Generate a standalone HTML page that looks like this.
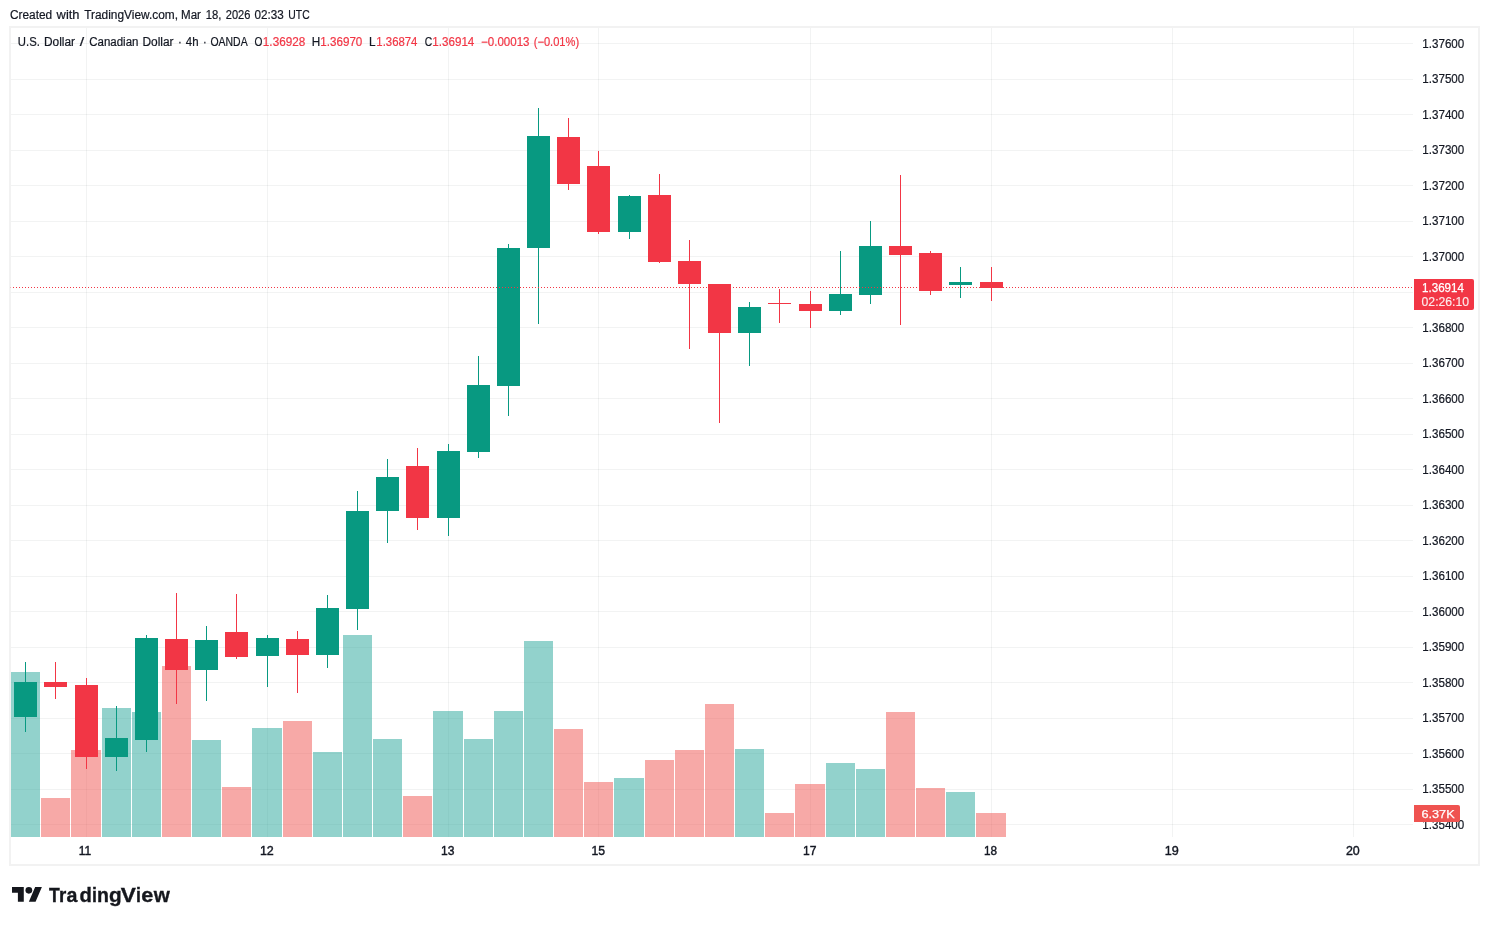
<!DOCTYPE html>
<html><head><meta charset="utf-8"><title>USDCAD</title>
<style>html,body{margin:0;padding:0;background:#fff;}body{width:1489px;height:925px;overflow:hidden;}svg{display:block;will-change:transform;}text{font-family:"Liberation Sans",sans-serif;}</style>
</head><body>
<svg width="1489" height="925" viewBox="0 0 1489 925">
<rect x="0" y="0" width="1489" height="925" fill="#ffffff"/>
<g fill="rgba(42,46,57,0.06)" shape-rendering="crispEdges">
<rect x="11" y="43" width="1402" height="1"/>
<rect x="11" y="79" width="1402" height="1"/>
<rect x="11" y="114" width="1402" height="1"/>
<rect x="11" y="150" width="1402" height="1"/>
<rect x="11" y="185" width="1402" height="1"/>
<rect x="11" y="221" width="1402" height="1"/>
<rect x="11" y="256" width="1402" height="1"/>
<rect x="11" y="292" width="1402" height="1"/>
<rect x="11" y="327" width="1402" height="1"/>
<rect x="11" y="363" width="1402" height="1"/>
<rect x="11" y="398" width="1402" height="1"/>
<rect x="11" y="434" width="1402" height="1"/>
<rect x="11" y="469" width="1402" height="1"/>
<rect x="11" y="505" width="1402" height="1"/>
<rect x="11" y="540" width="1402" height="1"/>
<rect x="11" y="576" width="1402" height="1"/>
<rect x="11" y="611" width="1402" height="1"/>
<rect x="11" y="647" width="1402" height="1"/>
<rect x="11" y="682" width="1402" height="1"/>
<rect x="11" y="718" width="1402" height="1"/>
<rect x="11" y="753" width="1402" height="1"/>
<rect x="11" y="789" width="1402" height="1"/>
<rect x="11" y="824" width="1402" height="1"/>
<rect x="86" y="28" width="1" height="809"/>
<rect x="267" y="28" width="1" height="809"/>
<rect x="448" y="28" width="1" height="809"/>
<rect x="598" y="28" width="1" height="809"/>
<rect x="810" y="28" width="1" height="809"/>
<rect x="991" y="28" width="1" height="809"/>
<rect x="1172" y="28" width="1" height="809"/>
<rect x="1353" y="28" width="1" height="809"/>
</g>
<rect x="10" y="27" width="1469" height="838" fill="none" stroke="#f2f2f2" stroke-width="2" shape-rendering="crispEdges"/>
<g shape-rendering="crispEdges">
<rect x="11" y="672" width="29" height="165" fill="rgba(38,166,154,0.5)"/>
<rect x="41" y="798" width="29" height="39" fill="rgba(239,83,80,0.5)"/>
<rect x="71" y="750" width="30" height="87" fill="rgba(239,83,80,0.5)"/>
<rect x="102" y="708" width="29" height="129" fill="rgba(38,166,154,0.5)"/>
<rect x="132" y="712" width="29" height="125" fill="rgba(38,166,154,0.5)"/>
<rect x="162" y="666" width="29" height="171" fill="rgba(239,83,80,0.5)"/>
<rect x="192" y="740" width="29" height="97" fill="rgba(38,166,154,0.5)"/>
<rect x="222" y="787" width="29" height="50" fill="rgba(239,83,80,0.5)"/>
<rect x="252" y="728" width="30" height="109" fill="rgba(38,166,154,0.5)"/>
<rect x="283" y="721" width="29" height="116" fill="rgba(239,83,80,0.5)"/>
<rect x="313" y="752" width="29" height="85" fill="rgba(38,166,154,0.5)"/>
<rect x="343" y="635" width="29" height="202" fill="rgba(38,166,154,0.5)"/>
<rect x="373" y="739" width="29" height="98" fill="rgba(38,166,154,0.5)"/>
<rect x="403" y="796" width="29" height="41" fill="rgba(239,83,80,0.5)"/>
<rect x="433" y="711" width="30" height="126" fill="rgba(38,166,154,0.5)"/>
<rect x="464" y="739" width="29" height="98" fill="rgba(38,166,154,0.5)"/>
<rect x="494" y="711" width="29" height="126" fill="rgba(38,166,154,0.5)"/>
<rect x="524" y="641" width="29" height="196" fill="rgba(38,166,154,0.5)"/>
<rect x="554" y="729" width="29" height="108" fill="rgba(239,83,80,0.5)"/>
<rect x="584" y="782" width="29" height="55" fill="rgba(239,83,80,0.5)"/>
<rect x="614" y="778" width="30" height="59" fill="rgba(38,166,154,0.5)"/>
<rect x="645" y="760" width="29" height="77" fill="rgba(239,83,80,0.5)"/>
<rect x="675" y="750" width="29" height="87" fill="rgba(239,83,80,0.5)"/>
<rect x="705" y="704" width="29" height="133" fill="rgba(239,83,80,0.5)"/>
<rect x="735" y="749" width="29" height="88" fill="rgba(38,166,154,0.5)"/>
<rect x="765" y="813" width="29" height="24" fill="rgba(239,83,80,0.5)"/>
<rect x="795" y="784" width="30" height="53" fill="rgba(239,83,80,0.5)"/>
<rect x="826" y="763" width="29" height="74" fill="rgba(38,166,154,0.5)"/>
<rect x="856" y="769" width="29" height="68" fill="rgba(38,166,154,0.5)"/>
<rect x="886" y="712" width="29" height="125" fill="rgba(239,83,80,0.5)"/>
<rect x="916" y="788" width="29" height="49" fill="rgba(239,83,80,0.5)"/>
<rect x="946" y="792" width="29" height="45" fill="rgba(38,166,154,0.5)"/>
<rect x="976" y="813" width="30" height="24" fill="rgba(239,83,80,0.5)"/>
</g>
<g shape-rendering="crispEdges">
<rect x="25" y="662" width="1" height="70" fill="#089981"/>
<rect x="14" y="682" width="23" height="35" fill="#089981"/>
<rect x="55" y="662" width="1" height="37" fill="#f23645"/>
<rect x="44" y="682" width="23" height="5" fill="#f23645"/>
<rect x="86" y="678" width="1" height="91" fill="#f23645"/>
<rect x="75" y="685" width="23" height="72" fill="#f23645"/>
<rect x="116" y="706" width="1" height="65" fill="#089981"/>
<rect x="105" y="738" width="23" height="19" fill="#089981"/>
<rect x="146" y="635" width="1" height="117" fill="#089981"/>
<rect x="135" y="638" width="23" height="102" fill="#089981"/>
<rect x="176" y="593" width="1" height="111" fill="#f23645"/>
<rect x="165" y="639" width="23" height="31" fill="#f23645"/>
<rect x="206" y="626" width="1" height="75" fill="#089981"/>
<rect x="195" y="640" width="23" height="30" fill="#089981"/>
<rect x="236" y="594" width="1" height="65" fill="#f23645"/>
<rect x="225" y="632" width="23" height="25" fill="#f23645"/>
<rect x="267" y="635" width="1" height="52" fill="#089981"/>
<rect x="256" y="638" width="23" height="18" fill="#089981"/>
<rect x="297" y="631" width="1" height="62" fill="#f23645"/>
<rect x="286" y="639" width="23" height="16" fill="#f23645"/>
<rect x="327" y="595" width="1" height="73" fill="#089981"/>
<rect x="316" y="608" width="23" height="47" fill="#089981"/>
<rect x="357" y="491" width="1" height="139" fill="#089981"/>
<rect x="346" y="511" width="23" height="98" fill="#089981"/>
<rect x="387" y="459" width="1" height="84" fill="#089981"/>
<rect x="376" y="477" width="23" height="34" fill="#089981"/>
<rect x="417" y="448" width="1" height="82" fill="#f23645"/>
<rect x="406" y="466" width="23" height="52" fill="#f23645"/>
<rect x="448" y="444" width="1" height="92" fill="#089981"/>
<rect x="437" y="451" width="23" height="67" fill="#089981"/>
<rect x="478" y="356" width="1" height="102" fill="#089981"/>
<rect x="467" y="385" width="23" height="67" fill="#089981"/>
<rect x="508" y="244" width="1" height="172" fill="#089981"/>
<rect x="497" y="248" width="23" height="138" fill="#089981"/>
<rect x="538" y="108" width="1" height="216" fill="#089981"/>
<rect x="527" y="136" width="23" height="112" fill="#089981"/>
<rect x="568" y="118" width="1" height="72" fill="#f23645"/>
<rect x="557" y="137" width="23" height="47" fill="#f23645"/>
<rect x="598" y="151" width="1" height="83" fill="#f23645"/>
<rect x="587" y="166" width="23" height="66" fill="#f23645"/>
<rect x="629" y="195" width="1" height="44" fill="#089981"/>
<rect x="618" y="196" width="23" height="36" fill="#089981"/>
<rect x="659" y="174" width="1" height="89" fill="#f23645"/>
<rect x="648" y="195" width="23" height="67" fill="#f23645"/>
<rect x="689" y="240" width="1" height="109" fill="#f23645"/>
<rect x="678" y="261" width="23" height="23" fill="#f23645"/>
<rect x="719" y="284" width="1" height="139" fill="#f23645"/>
<rect x="708" y="284" width="23" height="49" fill="#f23645"/>
<rect x="749" y="302" width="1" height="64" fill="#089981"/>
<rect x="738" y="307" width="23" height="26" fill="#089981"/>
<rect x="779" y="289" width="1" height="34" fill="#f23645"/>
<rect x="768" y="303" width="23" height="1" fill="#f23645"/>
<rect x="810" y="291" width="1" height="37" fill="#f23645"/>
<rect x="799" y="304" width="23" height="7" fill="#f23645"/>
<rect x="840" y="251" width="1" height="64" fill="#089981"/>
<rect x="829" y="294" width="23" height="17" fill="#089981"/>
<rect x="870" y="221" width="1" height="83" fill="#089981"/>
<rect x="859" y="246" width="23" height="49" fill="#089981"/>
<rect x="900" y="175" width="1" height="150" fill="#f23645"/>
<rect x="889" y="246" width="23" height="9" fill="#f23645"/>
<rect x="930" y="251" width="1" height="44" fill="#f23645"/>
<rect x="919" y="253" width="23" height="38" fill="#f23645"/>
<rect x="960" y="267" width="1" height="31" fill="#089981"/>
<rect x="949" y="282" width="23" height="3" fill="#089981"/>
<rect x="991" y="267" width="1" height="34" fill="#f23645"/>
<rect x="980" y="282" width="23" height="6" fill="#f23645"/>
</g>
<g fill="#f23645" shape-rendering="crispEdges">
<path d="M13 287h1v1h-1zM16 287h1v1h-1zM19 287h1v1h-1zM22 287h1v1h-1zM25 287h1v1h-1zM28 287h1v1h-1zM31 287h1v1h-1zM34 287h1v1h-1zM37 287h1v1h-1zM40 287h1v1h-1zM43 287h1v1h-1zM46 287h1v1h-1zM49 287h1v1h-1zM52 287h1v1h-1zM55 287h1v1h-1zM58 287h1v1h-1zM61 287h1v1h-1zM64 287h1v1h-1zM67 287h1v1h-1zM70 287h1v1h-1zM73 287h1v1h-1zM76 287h1v1h-1zM79 287h1v1h-1zM82 287h1v1h-1zM85 287h1v1h-1zM88 287h1v1h-1zM91 287h1v1h-1zM94 287h1v1h-1zM97 287h1v1h-1zM100 287h1v1h-1zM103 287h1v1h-1zM106 287h1v1h-1zM109 287h1v1h-1zM112 287h1v1h-1zM115 287h1v1h-1zM118 287h1v1h-1zM121 287h1v1h-1zM124 287h1v1h-1zM127 287h1v1h-1zM130 287h1v1h-1zM133 287h1v1h-1zM136 287h1v1h-1zM139 287h1v1h-1zM142 287h1v1h-1zM145 287h1v1h-1zM148 287h1v1h-1zM151 287h1v1h-1zM154 287h1v1h-1zM157 287h1v1h-1zM160 287h1v1h-1zM163 287h1v1h-1zM166 287h1v1h-1zM169 287h1v1h-1zM172 287h1v1h-1zM175 287h1v1h-1zM178 287h1v1h-1zM181 287h1v1h-1zM184 287h1v1h-1zM187 287h1v1h-1zM190 287h1v1h-1zM193 287h1v1h-1zM196 287h1v1h-1zM199 287h1v1h-1zM202 287h1v1h-1zM205 287h1v1h-1zM208 287h1v1h-1zM211 287h1v1h-1zM214 287h1v1h-1zM217 287h1v1h-1zM220 287h1v1h-1zM223 287h1v1h-1zM226 287h1v1h-1zM229 287h1v1h-1zM232 287h1v1h-1zM235 287h1v1h-1zM238 287h1v1h-1zM241 287h1v1h-1zM244 287h1v1h-1zM247 287h1v1h-1zM250 287h1v1h-1zM253 287h1v1h-1zM256 287h1v1h-1zM259 287h1v1h-1zM262 287h1v1h-1zM265 287h1v1h-1zM268 287h1v1h-1zM271 287h1v1h-1zM274 287h1v1h-1zM277 287h1v1h-1zM280 287h1v1h-1zM283 287h1v1h-1zM286 287h1v1h-1zM289 287h1v1h-1zM292 287h1v1h-1zM295 287h1v1h-1zM298 287h1v1h-1zM301 287h1v1h-1zM304 287h1v1h-1zM307 287h1v1h-1zM310 287h1v1h-1zM313 287h1v1h-1zM316 287h1v1h-1zM319 287h1v1h-1zM322 287h1v1h-1zM325 287h1v1h-1zM328 287h1v1h-1zM331 287h1v1h-1zM334 287h1v1h-1zM337 287h1v1h-1zM340 287h1v1h-1zM343 287h1v1h-1zM346 287h1v1h-1zM349 287h1v1h-1zM352 287h1v1h-1zM355 287h1v1h-1zM358 287h1v1h-1zM361 287h1v1h-1zM364 287h1v1h-1zM367 287h1v1h-1zM370 287h1v1h-1zM373 287h1v1h-1zM376 287h1v1h-1zM379 287h1v1h-1zM382 287h1v1h-1zM385 287h1v1h-1zM388 287h1v1h-1zM391 287h1v1h-1zM394 287h1v1h-1zM397 287h1v1h-1zM400 287h1v1h-1zM403 287h1v1h-1zM406 287h1v1h-1zM409 287h1v1h-1zM412 287h1v1h-1zM415 287h1v1h-1zM418 287h1v1h-1zM421 287h1v1h-1zM424 287h1v1h-1zM427 287h1v1h-1zM430 287h1v1h-1zM433 287h1v1h-1zM436 287h1v1h-1zM439 287h1v1h-1zM442 287h1v1h-1zM445 287h1v1h-1zM448 287h1v1h-1zM451 287h1v1h-1zM454 287h1v1h-1zM457 287h1v1h-1zM460 287h1v1h-1zM463 287h1v1h-1zM466 287h1v1h-1zM469 287h1v1h-1zM472 287h1v1h-1zM475 287h1v1h-1zM478 287h1v1h-1zM481 287h1v1h-1zM484 287h1v1h-1zM487 287h1v1h-1zM490 287h1v1h-1zM493 287h1v1h-1zM496 287h1v1h-1zM499 287h1v1h-1zM502 287h1v1h-1zM505 287h1v1h-1zM508 287h1v1h-1zM511 287h1v1h-1zM514 287h1v1h-1zM517 287h1v1h-1zM520 287h1v1h-1zM523 287h1v1h-1zM526 287h1v1h-1zM529 287h1v1h-1zM532 287h1v1h-1zM535 287h1v1h-1zM538 287h1v1h-1zM541 287h1v1h-1zM544 287h1v1h-1zM547 287h1v1h-1zM550 287h1v1h-1zM553 287h1v1h-1zM556 287h1v1h-1zM559 287h1v1h-1zM562 287h1v1h-1zM565 287h1v1h-1zM568 287h1v1h-1zM571 287h1v1h-1zM574 287h1v1h-1zM577 287h1v1h-1zM580 287h1v1h-1zM583 287h1v1h-1zM586 287h1v1h-1zM589 287h1v1h-1zM592 287h1v1h-1zM595 287h1v1h-1zM598 287h1v1h-1zM601 287h1v1h-1zM604 287h1v1h-1zM607 287h1v1h-1zM610 287h1v1h-1zM613 287h1v1h-1zM616 287h1v1h-1zM619 287h1v1h-1zM622 287h1v1h-1zM625 287h1v1h-1zM628 287h1v1h-1zM631 287h1v1h-1zM634 287h1v1h-1zM637 287h1v1h-1zM640 287h1v1h-1zM643 287h1v1h-1zM646 287h1v1h-1zM649 287h1v1h-1zM652 287h1v1h-1zM655 287h1v1h-1zM658 287h1v1h-1zM661 287h1v1h-1zM664 287h1v1h-1zM667 287h1v1h-1zM670 287h1v1h-1zM673 287h1v1h-1zM676 287h1v1h-1zM679 287h1v1h-1zM682 287h1v1h-1zM685 287h1v1h-1zM688 287h1v1h-1zM691 287h1v1h-1zM694 287h1v1h-1zM697 287h1v1h-1zM700 287h1v1h-1zM703 287h1v1h-1zM706 287h1v1h-1zM709 287h1v1h-1zM712 287h1v1h-1zM715 287h1v1h-1zM718 287h1v1h-1zM721 287h1v1h-1zM724 287h1v1h-1zM727 287h1v1h-1zM730 287h1v1h-1zM733 287h1v1h-1zM736 287h1v1h-1zM739 287h1v1h-1zM742 287h1v1h-1zM745 287h1v1h-1zM748 287h1v1h-1zM751 287h1v1h-1zM754 287h1v1h-1zM757 287h1v1h-1zM760 287h1v1h-1zM763 287h1v1h-1zM766 287h1v1h-1zM769 287h1v1h-1zM772 287h1v1h-1zM775 287h1v1h-1zM778 287h1v1h-1zM781 287h1v1h-1zM784 287h1v1h-1zM787 287h1v1h-1zM790 287h1v1h-1zM793 287h1v1h-1zM796 287h1v1h-1zM799 287h1v1h-1zM802 287h1v1h-1zM805 287h1v1h-1zM808 287h1v1h-1zM811 287h1v1h-1zM814 287h1v1h-1zM817 287h1v1h-1zM820 287h1v1h-1zM823 287h1v1h-1zM826 287h1v1h-1zM829 287h1v1h-1zM832 287h1v1h-1zM835 287h1v1h-1zM838 287h1v1h-1zM841 287h1v1h-1zM844 287h1v1h-1zM847 287h1v1h-1zM850 287h1v1h-1zM853 287h1v1h-1zM856 287h1v1h-1zM859 287h1v1h-1zM862 287h1v1h-1zM865 287h1v1h-1zM868 287h1v1h-1zM871 287h1v1h-1zM874 287h1v1h-1zM877 287h1v1h-1zM880 287h1v1h-1zM883 287h1v1h-1zM886 287h1v1h-1zM889 287h1v1h-1zM892 287h1v1h-1zM895 287h1v1h-1zM898 287h1v1h-1zM901 287h1v1h-1zM904 287h1v1h-1zM907 287h1v1h-1zM910 287h1v1h-1zM913 287h1v1h-1zM916 287h1v1h-1zM919 287h1v1h-1zM922 287h1v1h-1zM925 287h1v1h-1zM928 287h1v1h-1zM931 287h1v1h-1zM934 287h1v1h-1zM937 287h1v1h-1zM940 287h1v1h-1zM943 287h1v1h-1zM946 287h1v1h-1zM949 287h1v1h-1zM952 287h1v1h-1zM955 287h1v1h-1zM958 287h1v1h-1zM961 287h1v1h-1zM964 287h1v1h-1zM967 287h1v1h-1zM970 287h1v1h-1zM973 287h1v1h-1zM976 287h1v1h-1zM979 287h1v1h-1zM982 287h1v1h-1zM985 287h1v1h-1zM988 287h1v1h-1zM991 287h1v1h-1zM994 287h1v1h-1zM997 287h1v1h-1zM1000 287h1v1h-1zM1003 287h1v1h-1zM1006 287h1v1h-1zM1009 287h1v1h-1zM1012 287h1v1h-1zM1015 287h1v1h-1zM1018 287h1v1h-1zM1021 287h1v1h-1zM1024 287h1v1h-1zM1027 287h1v1h-1zM1030 287h1v1h-1zM1033 287h1v1h-1zM1036 287h1v1h-1zM1039 287h1v1h-1zM1042 287h1v1h-1zM1045 287h1v1h-1zM1048 287h1v1h-1zM1051 287h1v1h-1zM1054 287h1v1h-1zM1057 287h1v1h-1zM1060 287h1v1h-1zM1063 287h1v1h-1zM1066 287h1v1h-1zM1069 287h1v1h-1zM1072 287h1v1h-1zM1075 287h1v1h-1zM1078 287h1v1h-1zM1081 287h1v1h-1zM1084 287h1v1h-1zM1087 287h1v1h-1zM1090 287h1v1h-1zM1093 287h1v1h-1zM1096 287h1v1h-1zM1099 287h1v1h-1zM1102 287h1v1h-1zM1105 287h1v1h-1zM1108 287h1v1h-1zM1111 287h1v1h-1zM1114 287h1v1h-1zM1117 287h1v1h-1zM1120 287h1v1h-1zM1123 287h1v1h-1zM1126 287h1v1h-1zM1129 287h1v1h-1zM1132 287h1v1h-1zM1135 287h1v1h-1zM1138 287h1v1h-1zM1141 287h1v1h-1zM1144 287h1v1h-1zM1147 287h1v1h-1zM1150 287h1v1h-1zM1153 287h1v1h-1zM1156 287h1v1h-1zM1159 287h1v1h-1zM1162 287h1v1h-1zM1165 287h1v1h-1zM1168 287h1v1h-1zM1171 287h1v1h-1zM1174 287h1v1h-1zM1177 287h1v1h-1zM1180 287h1v1h-1zM1183 287h1v1h-1zM1186 287h1v1h-1zM1189 287h1v1h-1zM1192 287h1v1h-1zM1195 287h1v1h-1zM1198 287h1v1h-1zM1201 287h1v1h-1zM1204 287h1v1h-1zM1207 287h1v1h-1zM1210 287h1v1h-1zM1213 287h1v1h-1zM1216 287h1v1h-1zM1219 287h1v1h-1zM1222 287h1v1h-1zM1225 287h1v1h-1zM1228 287h1v1h-1zM1231 287h1v1h-1zM1234 287h1v1h-1zM1237 287h1v1h-1zM1240 287h1v1h-1zM1243 287h1v1h-1zM1246 287h1v1h-1zM1249 287h1v1h-1zM1252 287h1v1h-1zM1255 287h1v1h-1zM1258 287h1v1h-1zM1261 287h1v1h-1zM1264 287h1v1h-1zM1267 287h1v1h-1zM1270 287h1v1h-1zM1273 287h1v1h-1zM1276 287h1v1h-1zM1279 287h1v1h-1zM1282 287h1v1h-1zM1285 287h1v1h-1zM1288 287h1v1h-1zM1291 287h1v1h-1zM1294 287h1v1h-1zM1297 287h1v1h-1zM1300 287h1v1h-1zM1303 287h1v1h-1zM1306 287h1v1h-1zM1309 287h1v1h-1zM1312 287h1v1h-1zM1315 287h1v1h-1zM1318 287h1v1h-1zM1321 287h1v1h-1zM1324 287h1v1h-1zM1327 287h1v1h-1zM1330 287h1v1h-1zM1333 287h1v1h-1zM1336 287h1v1h-1zM1339 287h1v1h-1zM1342 287h1v1h-1zM1345 287h1v1h-1zM1348 287h1v1h-1zM1351 287h1v1h-1zM1354 287h1v1h-1zM1357 287h1v1h-1zM1360 287h1v1h-1zM1363 287h1v1h-1zM1366 287h1v1h-1zM1369 287h1v1h-1zM1372 287h1v1h-1zM1375 287h1v1h-1zM1378 287h1v1h-1zM1381 287h1v1h-1zM1384 287h1v1h-1zM1387 287h1v1h-1zM1390 287h1v1h-1zM1393 287h1v1h-1zM1396 287h1v1h-1zM1399 287h1v1h-1zM1402 287h1v1h-1zM1405 287h1v1h-1zM1408 287h1v1h-1zM1411 287h1v1h-1z"/>
<rect x="10" y="287" width="1" height="1" fill="#f23645" fill-opacity="0.3"/>
</g>
<text x="9.90" y="18.60" font-size="12" fill="#131722" stroke="#131722" stroke-width="0.2" textLength="42.30" lengthAdjust="spacingAndGlyphs">Created</text>
<text x="56.64" y="18.60" font-size="12" fill="#131722" stroke="#131722" stroke-width="0.2" textLength="22.85" lengthAdjust="spacingAndGlyphs">with</text>
<text x="84.22" y="18.60" font-size="12" fill="#131722" stroke="#131722" stroke-width="0.2" textLength="93.87" lengthAdjust="spacingAndGlyphs">TradingView.com,</text>
<text x="181.04" y="18.60" font-size="12" fill="#131722" stroke="#131722" stroke-width="0.2" textLength="19.93" lengthAdjust="spacingAndGlyphs">Mar</text>
<text x="205.79" y="18.60" font-size="12" fill="#131722" stroke="#131722" stroke-width="0.2" textLength="15.66" lengthAdjust="spacingAndGlyphs">18,</text>
<text x="225.78" y="18.60" font-size="12" fill="#131722" stroke="#131722" stroke-width="0.2" textLength="24.61" lengthAdjust="spacingAndGlyphs">2026</text>
<text x="254.40" y="18.60" font-size="12" fill="#131722" stroke="#131722" stroke-width="0.2" textLength="29.24" lengthAdjust="spacingAndGlyphs">02:33</text>
<text x="288.31" y="18.60" font-size="12" fill="#131722" stroke="#131722" stroke-width="0.2" textLength="21.34" lengthAdjust="spacingAndGlyphs">UTC</text>
<text x="17.84" y="46.00" font-size="12" fill="#131722" stroke="#131722" stroke-width="0.2" textLength="21.99" lengthAdjust="spacingAndGlyphs">U.S.</text>
<text x="43.93" y="46.00" font-size="12" fill="#131722" stroke="#131722" stroke-width="0.2" textLength="31.09" lengthAdjust="spacingAndGlyphs">Dollar</text>
<text x="79.89" y="46.00" font-size="12" fill="#131722" stroke="#131722" stroke-width="0.2" textLength="4.41" lengthAdjust="spacingAndGlyphs">/</text>
<text x="89.26" y="46.00" font-size="12" fill="#131722" stroke="#131722" stroke-width="0.2" textLength="49.16" lengthAdjust="spacingAndGlyphs">Canadian</text>
<text x="142.48" y="46.00" font-size="12" fill="#131722" stroke="#131722" stroke-width="0.2" textLength="31.12" lengthAdjust="spacingAndGlyphs">Dollar</text>
<text x="178.10" y="46.00" font-size="12" fill="#131722" stroke="#131722" stroke-width="0.2" textLength="3.82" lengthAdjust="spacingAndGlyphs">·</text>
<text x="185.80" y="46.00" font-size="12" fill="#131722" stroke="#131722" stroke-width="0.2" textLength="12.71" lengthAdjust="spacingAndGlyphs">4h</text>
<text x="202.93" y="46.00" font-size="12" fill="#131722" stroke="#131722" stroke-width="0.2" textLength="3.65" lengthAdjust="spacingAndGlyphs">·</text>
<text x="210.49" y="46.00" font-size="12" fill="#131722" stroke="#131722" stroke-width="0.2" textLength="37.11" lengthAdjust="spacingAndGlyphs">OANDA</text>
<text x="254.60" y="46.00" font-size="12" fill="#131722" stroke="#131722" stroke-width="0.2" textLength="7.92" lengthAdjust="spacingAndGlyphs">O</text>
<text x="262.85" y="46.00" font-size="12" fill="#f23645" stroke="#f23645" stroke-width="0.2" textLength="42.45" lengthAdjust="spacingAndGlyphs">1.36928</text>
<text x="311.77" y="46.00" font-size="12" fill="#131722" stroke="#131722" stroke-width="0.2" textLength="8.49" lengthAdjust="spacingAndGlyphs">H</text>
<text x="320.31" y="46.00" font-size="12" fill="#f23645" stroke="#f23645" stroke-width="0.2" textLength="42.03" lengthAdjust="spacingAndGlyphs">1.36970</text>
<text x="369.01" y="46.00" font-size="12" fill="#131722" stroke="#131722" stroke-width="0.2" textLength="6.56" lengthAdjust="spacingAndGlyphs">L</text>
<text x="376.32" y="46.00" font-size="12" fill="#f23645" stroke="#f23645" stroke-width="0.2" textLength="41.15" lengthAdjust="spacingAndGlyphs">1.36874</text>
<text x="424.72" y="46.00" font-size="12" fill="#131722" stroke="#131722" stroke-width="0.2" textLength="7.45" lengthAdjust="spacingAndGlyphs">C</text>
<text x="432.32" y="46.00" font-size="12" fill="#f23645" stroke="#f23645" stroke-width="0.2" textLength="42.03" lengthAdjust="spacingAndGlyphs">1.36914</text>
<text x="481.08" y="46.00" font-size="12" fill="#f23645" stroke="#f23645" stroke-width="0.2" textLength="48.40" lengthAdjust="spacingAndGlyphs">−0.00013</text>
<text x="533.72" y="46.00" font-size="12" fill="#f23645" stroke="#f23645" stroke-width="0.2" textLength="45.37" lengthAdjust="spacingAndGlyphs">(−0.01%)</text>
<text x="1422.32" y="47.95" font-size="12" fill="#131722" stroke="#131722" stroke-width="0.2" textLength="41.98" lengthAdjust="spacingAndGlyphs">1.37600</text>
<text x="1422.32" y="83.45" font-size="12" fill="#131722" stroke="#131722" stroke-width="0.2" textLength="41.98" lengthAdjust="spacingAndGlyphs">1.37500</text>
<text x="1422.32" y="118.95" font-size="12" fill="#131722" stroke="#131722" stroke-width="0.2" textLength="41.98" lengthAdjust="spacingAndGlyphs">1.37400</text>
<text x="1422.32" y="154.45" font-size="12" fill="#131722" stroke="#131722" stroke-width="0.2" textLength="41.98" lengthAdjust="spacingAndGlyphs">1.37300</text>
<text x="1422.32" y="189.95" font-size="12" fill="#131722" stroke="#131722" stroke-width="0.2" textLength="41.98" lengthAdjust="spacingAndGlyphs">1.37200</text>
<text x="1422.32" y="225.45" font-size="12" fill="#131722" stroke="#131722" stroke-width="0.2" textLength="41.98" lengthAdjust="spacingAndGlyphs">1.37100</text>
<text x="1422.32" y="260.95" font-size="12" fill="#131722" stroke="#131722" stroke-width="0.2" textLength="41.98" lengthAdjust="spacingAndGlyphs">1.37000</text>
<text x="1422.32" y="296.45" font-size="12" fill="#131722" stroke="#131722" stroke-width="0.2" textLength="41.98" lengthAdjust="spacingAndGlyphs">1.36900</text>
<text x="1422.32" y="331.95" font-size="12" fill="#131722" stroke="#131722" stroke-width="0.2" textLength="41.98" lengthAdjust="spacingAndGlyphs">1.36800</text>
<text x="1422.32" y="367.45" font-size="12" fill="#131722" stroke="#131722" stroke-width="0.2" textLength="41.98" lengthAdjust="spacingAndGlyphs">1.36700</text>
<text x="1422.32" y="402.95" font-size="12" fill="#131722" stroke="#131722" stroke-width="0.2" textLength="41.98" lengthAdjust="spacingAndGlyphs">1.36600</text>
<text x="1422.32" y="438.45" font-size="12" fill="#131722" stroke="#131722" stroke-width="0.2" textLength="41.98" lengthAdjust="spacingAndGlyphs">1.36500</text>
<text x="1422.32" y="473.95" font-size="12" fill="#131722" stroke="#131722" stroke-width="0.2" textLength="41.98" lengthAdjust="spacingAndGlyphs">1.36400</text>
<text x="1422.32" y="509.45" font-size="12" fill="#131722" stroke="#131722" stroke-width="0.2" textLength="41.98" lengthAdjust="spacingAndGlyphs">1.36300</text>
<text x="1422.32" y="544.95" font-size="12" fill="#131722" stroke="#131722" stroke-width="0.2" textLength="41.98" lengthAdjust="spacingAndGlyphs">1.36200</text>
<text x="1422.32" y="580.45" font-size="12" fill="#131722" stroke="#131722" stroke-width="0.2" textLength="41.98" lengthAdjust="spacingAndGlyphs">1.36100</text>
<text x="1422.32" y="615.95" font-size="12" fill="#131722" stroke="#131722" stroke-width="0.2" textLength="41.98" lengthAdjust="spacingAndGlyphs">1.36000</text>
<text x="1422.32" y="651.45" font-size="12" fill="#131722" stroke="#131722" stroke-width="0.2" textLength="41.98" lengthAdjust="spacingAndGlyphs">1.35900</text>
<text x="1422.32" y="686.95" font-size="12" fill="#131722" stroke="#131722" stroke-width="0.2" textLength="41.98" lengthAdjust="spacingAndGlyphs">1.35800</text>
<text x="1422.32" y="722.45" font-size="12" fill="#131722" stroke="#131722" stroke-width="0.2" textLength="41.98" lengthAdjust="spacingAndGlyphs">1.35700</text>
<text x="1422.32" y="757.95" font-size="12" fill="#131722" stroke="#131722" stroke-width="0.2" textLength="41.98" lengthAdjust="spacingAndGlyphs">1.35600</text>
<text x="1422.32" y="793.45" font-size="12" fill="#131722" stroke="#131722" stroke-width="0.2" textLength="41.98" lengthAdjust="spacingAndGlyphs">1.35500</text>
<text x="1422.32" y="828.95" font-size="12" fill="#131722" stroke="#131722" stroke-width="0.2" textLength="41.98" lengthAdjust="spacingAndGlyphs">1.35400</text>
<text x="78.84" y="855.10" font-size="12" fill="#131722" stroke="#131722" stroke-width="0.4" textLength="12.42" lengthAdjust="spacingAndGlyphs">11</text>
<text x="259.90" y="855.10" font-size="12" fill="#131722" stroke="#131722" stroke-width="0.4" textLength="13.89" lengthAdjust="spacingAndGlyphs">12</text>
<text x="441.00" y="855.10" font-size="12" fill="#131722" stroke="#131722" stroke-width="0.4" textLength="13.45" lengthAdjust="spacingAndGlyphs">13</text>
<text x="591.56" y="855.10" font-size="12" fill="#131722" stroke="#131722" stroke-width="0.4" textLength="13.61" lengthAdjust="spacingAndGlyphs">15</text>
<text x="802.98" y="855.10" font-size="12" fill="#131722" stroke="#131722" stroke-width="0.4" textLength="13.47" lengthAdjust="spacingAndGlyphs">17</text>
<text x="984.04" y="855.10" font-size="12" fill="#131722" stroke="#131722" stroke-width="0.4" textLength="13.04" lengthAdjust="spacingAndGlyphs">18</text>
<text x="1164.78" y="855.10" font-size="12" fill="#131722" stroke="#131722" stroke-width="0.4" textLength="14.03" lengthAdjust="spacingAndGlyphs">19</text>
<text x="1345.95" y="855.10" font-size="12" fill="#131722" stroke="#131722" stroke-width="0.4" textLength="13.84" lengthAdjust="spacingAndGlyphs">20</text>
<text x="48.90" y="901.85" font-size="20.2" fill="#15171d" font-weight="bold" stroke="#15171d" stroke-width="0.35" textLength="10.77" lengthAdjust="spacingAndGlyphs">T</text>
<text x="59.05" y="901.85" font-size="20.6" fill="#15171d" font-weight="bold" stroke="#15171d" stroke-width="0.35" textLength="7.29" lengthAdjust="spacingAndGlyphs">r</text>
<text x="66.44" y="901.85" font-size="20.6" fill="#15171d" font-weight="bold" stroke="#15171d" stroke-width="0.35" textLength="10.93" lengthAdjust="spacingAndGlyphs">a</text>
<text x="79.47" y="901.85" font-size="20.6" fill="#15171d" font-weight="bold" stroke="#15171d" stroke-width="0.35" textLength="12.38" lengthAdjust="spacingAndGlyphs">d</text>
<text x="92.09" y="901.85" font-size="20.6" fill="#15171d" font-weight="bold" stroke="#15171d" stroke-width="0.35" textLength="4.95" lengthAdjust="spacingAndGlyphs">i</text>
<text x="97.04" y="901.85" font-size="20.6" fill="#15171d" font-weight="bold" stroke="#15171d" stroke-width="0.35" textLength="11.92" lengthAdjust="spacingAndGlyphs">n</text>
<text x="109.07" y="901.85" font-size="20.6" fill="#15171d" font-weight="bold" stroke="#15171d" stroke-width="0.35" textLength="12.70" lengthAdjust="spacingAndGlyphs">g</text>
<text x="120.70" y="901.85" font-size="20.2" fill="#15171d" font-weight="bold" stroke="#15171d" stroke-width="0.35" textLength="15.10" lengthAdjust="spacingAndGlyphs">V</text>
<text x="136.09" y="901.85" font-size="20.6" fill="#15171d" font-weight="bold" stroke="#15171d" stroke-width="0.35" textLength="4.95" lengthAdjust="spacingAndGlyphs">i</text>
<text x="141.27" y="901.85" font-size="20.6" fill="#15171d" font-weight="bold" stroke="#15171d" stroke-width="0.35" textLength="12.05" lengthAdjust="spacingAndGlyphs">e</text>
<text x="153.70" y="901.85" font-size="20.6" fill="#15171d" font-weight="bold" stroke="#15171d" stroke-width="0.35" textLength="16.08" lengthAdjust="spacingAndGlyphs">w</text>
<path d="M1414 805h44a2 2 0 0 1 2 2v13a2 2 0 0 1 -2 2h-44z" fill="#ef5350"/>
<path d="M1414 279h58a2 2 0 0 1 2 2v27a2 2 0 0 1 -2 2h-58z" fill="#f23645"/>
<text x="1421.45" y="818.00" font-size="11.8" fill="#ffffff" stroke="#ffffff" stroke-width="0.25" textLength="33.23" lengthAdjust="spacingAndGlyphs">6.37K</text>
<text x="1422.07" y="291.90" font-size="12" fill="#ffffff" stroke="#ffffff" stroke-width="0.25" textLength="41.91" lengthAdjust="spacingAndGlyphs">1.36914</text>
<text x="1421.56" y="306.00" font-size="12" fill="#ffffff" fill-opacity="0.88" stroke="#ffffff" stroke-width="0.15" stroke-opacity="0.88" textLength="47.57" lengthAdjust="spacingAndGlyphs">02:26:10</text>
<g transform="translate(12 883.8) scale(0.842 0.82)" fill="#15171d"><path d="M14 22H7V11H0V4h14v18zM28 22h-8l7.500-18h8L28 22z"/><circle cx="20" cy="8" r="4"/></g>
</svg>
</body></html>
